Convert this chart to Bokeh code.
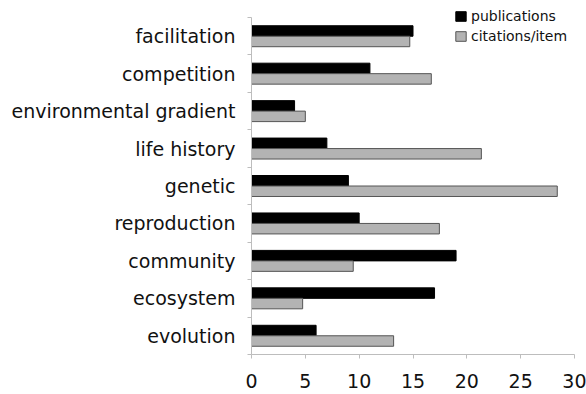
from bokeh.plotting import figure
from bokeh.models import (Range1d, LinearAxis, FixedTicker, Legend, LegendItem, ColumnDataSource)
from bokeh.transform import dodge
from bokeh.embed import file_html
from bokeh.resources import INLINE

categories = ["facilitation", "competition", "environmental gradient", "life history",
              "genetic", "reproduction", "community", "ecosystem", "evolution"]
publications = [15, 11, 4, 7, 9, 10, 19, 17, 6]
citations_per_item = [14.7, 16.7, 5.0, 21.35, 28.4, 17.45, 9.45, 4.75, 13.2]
x_ticks = [0, 5, 10, 15, 20, 25, 30]

FONT = "DejaVu Sans"
n = len(categories)
# category slot centres, first category at the top
pos = [n - 0.5 - i for i in range(n)]

src = ColumnDataSource(dict(cat=categories, pos=pos, pub=publications, cit=citations_per_item))

# frame reaches the top of the canvas so the legend (drawn inside the frame) is not clipped;
# the extra head-room above the last slot is empty, and the axis line is bounded to the slots
head = 17 / (337 / n)
p = figure(width=586, height=394, output_backend="svg", toolbar_location=None,
           y_range=Range1d(0, n + head), x_range=Range1d(0, 30),
           y_axis_location=None, x_axis_location=None,
           min_border_left=251, min_border_right=12, min_border_top=0, min_border_bottom=40)
p.outline_line_color = None
p.grid.visible = False

r_pub = p.hbar(y=dodge("pos", 0.14), right="pub", left=0, height=0.28,
               source=src, fill_color="black", line_color="black", line_width=1)
r_cit = p.hbar(y=dodge("pos", -0.14), right="cit", left=0, height=0.28,
               source=src, fill_color="#b3b3b3", line_color="#555555", line_width=1)

yaxis = LinearAxis(ticker=FixedTicker(ticks=pos, minor_ticks=list(range(n + 1))),
                   bounds=(0, n),
                   major_label_overrides={c: lab for c, lab in zip(pos, categories)},
                   axis_line_color="#bdbdbd", major_tick_line_color=None,
                   major_tick_out=4, major_tick_in=0,
                   minor_tick_line_color="#bdbdbd", minor_tick_out=4, minor_tick_in=0,
                   major_label_standoff=12,
                   major_label_text_font=FONT, major_label_text_font_size="19px",
                   major_label_text_color="#111111")
p.add_layout(yaxis, "left")

xaxis = LinearAxis(ticker=FixedTicker(ticks=x_ticks), axis_line_color="#bdbdbd",
                   major_tick_line_color="#bdbdbd", major_tick_out=4, major_tick_in=0,
                   minor_tick_line_color=None, major_label_standoff=15,
                   major_label_text_font=FONT, major_label_text_font_size="19px",
                   major_label_text_color="#111111")
p.add_layout(xaxis, "below")

legend = Legend(items=[LegendItem(label="publications", renderers=[r_pub]),
                       LegendItem(label="citations/item", renderers=[r_cit])],
                location=(203, 310), padding=0, margin=0, spacing=4,
                glyph_width=13, glyph_height=12, label_standoff=4,
                label_text_font=FONT, label_text_font_size="14px", label_text_color="#111111",
                border_line_color=None, background_fill_alpha=0)
p.add_layout(legend, "center")

open("out.html", "w").write(file_html(p, INLINE))
